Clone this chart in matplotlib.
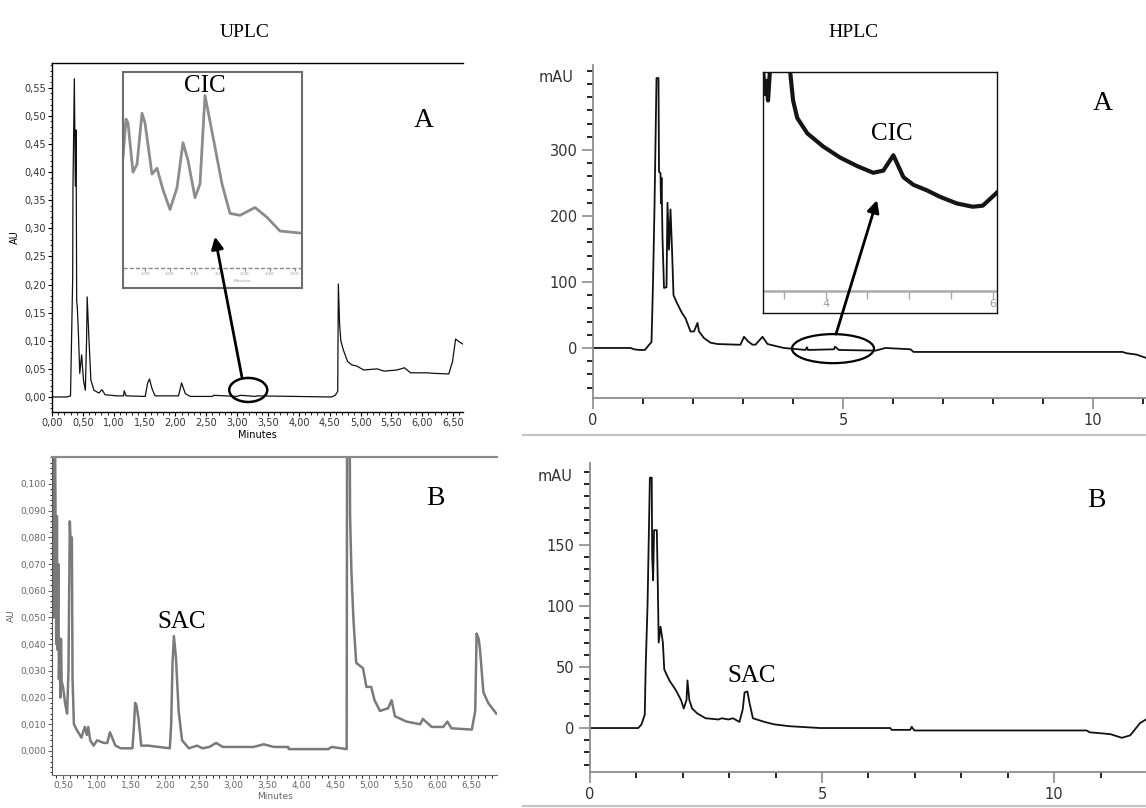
import matplotlib
matplotlib.use('Agg')
import matplotlib.pyplot as plt
from matplotlib.patches import Ellipse, FancyArrowPatch, Rectangle
from matplotlib.lines import Line2D
from matplotlib.ticker import MultipleLocator

# ---------------- data ----------------
# UPLC, sample A (time in min, absorbance in AU)
uplc_a_t = [0.00, 0.24, 0.30, 0.335, 0.34, 0.362, 0.378, 0.39, 0.40, 0.41, 0.43, 0.45, 0.48,
            0.51, 0.54, 0.56, 0.57, 0.60, 0.63, 0.68, 0.76, 0.81, 0.86, 1.05, 1.16, 1.17, 1.20,
            1.51, 1.55, 1.58, 1.62, 1.67, 2.05, 2.10, 2.16, 2.24, 2.60, 2.62, 3.00, 3.05, 3.30,
            3.32, 4.53, 4.59, 4.63, 4.64, 4.66, 4.68, 4.72, 4.79, 4.86, 4.94, 5.05, 5.27, 5.38,
            5.59, 5.71, 5.81, 6.08, 6.19, 6.43, 6.49, 6.54, 6.60, 6.66]
uplc_a_v = [0.000, 0.000, 0.002, 0.210, 0.375, 0.566, 0.375, 0.475, 0.170, 0.160, 0.107, 0.042,
            0.075, 0.030, 0.012, 0.100, 0.178, 0.100, 0.030, 0.012, 0.007, 0.013, 0.004, 0.002,
            0.002, 0.011, 0.002, 0.001, 0.025, 0.032, 0.015, 0.002, 0.002, 0.025, 0.006, 0.001,
            0.001, 0.003, 0.001, 0.003, 0.001, 0.002, 0.000, 0.003, 0.010, 0.201, 0.130, 0.100,
            0.084, 0.063, 0.057, 0.055, 0.048, 0.050, 0.046, 0.048, 0.052, 0.043, 0.043, 0.042,
            0.041, 0.063, 0.103, 0.098, 0.094]
uplc_a_yticks = [0.00, 0.05, 0.10, 0.15, 0.20, 0.25, 0.30, 0.35, 0.40, 0.45, 0.50, 0.55]
uplc_a_ylabels = ['0,00', '0,05', '0,10', '0,15', '0,20', '0,25', '0,30', '0,35', '0,40',
                  '0,45', '0,50', '0,55']
uplc_a_xticks = [0.0, 0.5, 1.0, 1.5, 2.0, 2.5, 3.0, 3.5, 4.0, 4.5, 5.0, 5.5, 6.0, 6.5]
uplc_a_xlabels = ['0,00', '0,50', '1,00', '1,50', '2,00', '2,50', '3,00', '3,50', '4,00',
                  '4,50', '5,00', '5,50', '6,00', '6,50']

# UPLC inset around the CIC peak
cic_uplc_t = [2.812, 2.824, 2.832, 2.852, 2.868, 2.888, 2.90, 2.928, 2.948, 2.972, 3.00, 3.028,
              3.052, 3.072, 3.10, 3.12, 3.14, 3.172, 3.208, 3.24, 3.28, 3.34, 3.388, 3.44, 3.52]
cic_uplc_v = [0.565, 0.76, 0.74, 0.49, 0.53, 0.79, 0.74, 0.48, 0.51, 0.40, 0.30, 0.41, 0.64,
              0.55, 0.36, 0.43, 0.88, 0.67, 0.43, 0.28, 0.27, 0.31, 0.26, 0.19, 0.18]
cic_uplc_ticks = [2.8, 2.9, 3.0, 3.1, 3.2, 3.3, 3.4, 3.5]
cic_uplc_labels = ['2,80', '2,90', '3,00', '3,10', '3,20', '3,30', '3,40', '3,50']

# UPLC, sample B
uplc_b_t = [0.34, 0.355, 0.36, 0.37, 0.375, 0.38, 0.39, 0.40, 0.41, 0.42, 0.43, 0.44, 0.45,
            0.46, 0.47, 0.48, 0.50, 0.53, 0.56, 0.58, 0.60, 0.61, 0.63, 0.64, 0.66, 0.70, 0.77,
            0.82, 0.85, 0.87, 0.90, 0.95, 1.00, 1.10, 1.15, 1.19, 1.27, 1.35, 1.52, 1.54, 1.56,
            1.58, 1.61, 1.65, 1.75, 2.07, 2.09, 2.11, 2.13, 2.16, 2.20, 2.25, 2.35, 2.47, 2.55,
            2.65, 2.75, 2.85, 3.30, 3.45, 3.60, 3.81, 3.82, 4.40, 4.45, 4.67, 4.68, 4.70, 4.72,
            4.74, 4.77, 4.81, 4.91, 4.96, 5.03, 5.08, 5.16, 5.28, 5.33, 5.38, 5.55, 5.75, 5.79,
            5.92, 6.09, 6.15, 6.21, 6.51, 6.56, 6.58, 6.61, 6.63, 6.68, 6.75, 6.87]
uplc_b_v = [0.050, 0.130, 0.050, 0.130, 0.060, 0.130, 0.088, 0.040, 0.088, 0.038, 0.070,
            0.027, 0.042, 0.020, 0.042, 0.026, 0.024, 0.018, 0.014, 0.030, 0.086, 0.079, 0.080,
            0.027, 0.010, 0.008, 0.005, 0.009, 0.006, 0.009, 0.004, 0.002, 0.004, 0.003, 0.003,
            0.007, 0.002, 0.001, 0.001, 0.008, 0.018, 0.017, 0.012, 0.002, 0.002, 0.001, 0.010,
            0.033, 0.043, 0.035, 0.015, 0.004, 0.001, 0.002, 0.001, 0.0015, 0.003, 0.0015, 0.0015,
            0.0025, 0.0015, 0.0015, 0.0007, 0.0007, 0.0015, 0.0007, 0.200, 0.200, 0.088, 0.067,
            0.049, 0.033, 0.031, 0.024, 0.024, 0.019, 0.015, 0.016, 0.019, 0.013, 0.011, 0.010,
            0.012, 0.009, 0.009, 0.011, 0.0085, 0.008, 0.015, 0.044, 0.042, 0.038, 0.022, 0.018,
            0.014]
uplc_b_yticks = [0.00, 0.01, 0.02, 0.03, 0.04, 0.05, 0.06, 0.07, 0.08, 0.09, 0.10]
uplc_b_ylabels = ['0,000', '0,010', '0,020', '0,030', '0,040', '0,050', '0,060', '0,070',
                  '0,080', '0,090', '0,100']
uplc_b_xticks = [0.5, 1.0, 1.5, 2.0, 2.5, 3.0, 3.5, 4.0, 4.5, 5.0, 5.5, 6.0, 6.5]
uplc_b_xlabels = ['0,50', '1,00', '1,50', '2,00', '2,50', '3,00', '3,50', '4,00', '4,50',
                  '5,00', '5,50', '6,00', '6,50']

# HPLC, sample A (time in min, mAU)
hplc_a_t = [0.00, 0.75, 0.82, 0.92, 1.04, 1.09, 1.17, 1.20, 1.23, 1.27, 1.31, 1.32, 1.35, 1.36,
            1.37, 1.39, 1.42, 1.47, 1.49, 1.52, 1.55, 1.58, 1.61, 1.68, 1.78, 1.85, 1.95, 2.02,
            2.09, 2.12, 2.22, 2.35, 2.49, 2.89, 2.95, 3.02, 3.10, 3.19, 3.25, 3.39, 3.49, 3.65,
            3.82, 4.25, 4.28, 4.30, 4.82, 4.84, 4.92, 5.65, 5.85, 6.35, 6.41, 10.59, 10.67, 10.87,
            11.06]
hplc_a_v = [0, 0, -2, -3, -3, 2, 9, 98, 214, 409, 409, 267, 265, 219, 258, 167, 91, 92, 220,
            149, 210, 150, 80, 68, 53, 45, 25, 25, 38, 25, 15, 8, 6, 5, 5, 17, 10, 5, 5, 17, 6,
            3, 0, -3, 1, -3, -2, 2, -3, -4, 0, -2, -6, -6, -8, -10, -15]

# HPLC inset around the CIC peak (arbitrary units)
cic_hplc_t = [3.25, 3.27, 3.29, 3.31, 3.33, 3.35, 3.45, 3.57, 3.61, 3.66, 3.78, 3.97, 4.17,
              4.38, 4.57, 4.69, 4.81, 4.93, 5.05, 5.21, 5.37, 5.57, 5.76, 5.88, 6.05]
cic_hplc_v = [10.2, 9.0, 9.6, 8.7, 9.9, 10.5, 14.0, 10.2, 8.7, 7.9, 7.2, 6.6, 6.1, 5.7, 5.4,
              5.5, 6.2, 5.2, 4.85, 4.6, 4.3, 4.0, 3.85, 3.9, 4.5]
cic_hplc_ticks = [3.5, 4.0, 4.5, 5.0, 5.5, 6.0]
cic_hplc_labels = {4.0: '4', 6.0: '6'}

# HPLC, sample B
hplc_b_t = [0.00, 1.04, 1.11, 1.18, 1.20, 1.24, 1.29, 1.33, 1.34, 1.36, 1.38, 1.44, 1.46, 1.48,
            1.52, 1.57, 1.60, 1.71, 1.85, 1.96, 2.02, 2.08, 2.10, 2.14, 2.20, 2.31, 2.49, 2.77,
            2.84, 2.98, 3.08, 3.22, 3.29, 3.33, 3.39, 3.44, 3.51, 3.76, 3.97, 4.29, 4.96, 6.47,
            6.50, 6.90, 6.93, 6.99, 10.70, 10.77, 11.21, 11.46, 11.64, 11.85, 11.98]
hplc_b_v = [0, 0, 3, 11, 50, 101, 205, 205, 140, 121, 162, 162, 119, 70, 83, 70, 48, 39, 31, 23,
            16, 23, 39, 23, 16, 12, 8, 7, 8, 7, 8, 5, 15, 29, 30, 20, 8, 5, 3, 1.5, 0, 0, -1.5,
            -1.5, 1, -2, -2, -3.5, -5, -8, -6, 4, 7]

hplc_a_yticks = [0, 100, 200, 300]
hplc_b_yticks = [0, 50, 100, 150]
hplc_xticks = [0, 5, 10]

# ---------------- figure ----------------
W, H = 1146, 808
fig = plt.figure(figsize=(W / 100, H / 100), dpi=100)
serif = 'Liberation Serif'


def box(x0, y0, x1, y1):
    return [x0 / W, 1 - y1 / H, (x1 - x0) / W, (y1 - y0) / H]


fig.text(245 / W, 1 - 37 / H, 'UPLC', family=serif, fontsize=14, ha='center', va='baseline')
fig.text(853 / W, 1 - 37 / H, 'HPLC', family=serif, fontsize=14, ha='center', va='baseline')

# ---- UPLC A ----
ax1 = fig.add_axes(box(52, 63, 463, 412))
ax1.plot(uplc_a_t, uplc_a_v, color='#111111', lw=0.9)
ax1.set_xlim(0, 6.66)
ax1.set_ylim(-0.0267, 0.594)
ax1.spines['right'].set_visible(False)
for s in ['left', 'bottom', 'top']:
    ax1.spines[s].set_linewidth(1.0)
ax1.set_yticks(uplc_a_yticks)
ax1.set_yticklabels(uplc_a_ylabels)
ax1.set_xticks(uplc_a_xticks)
ax1.set_xticklabels(uplc_a_xlabels)
ax1.yaxis.set_minor_locator(MultipleLocator(0.01))
ax1.xaxis.set_minor_locator(MultipleLocator(0.1))
ax1.tick_params(labelsize=7, length=3, width=0.8, pad=1.5, labelcolor='#333333')
ax1.tick_params(which='minor', length=1.8, width=0.6)
ax1.set_ylabel('AU', fontsize=7, labelpad=3)
ax1.set_xlabel('Minutes', fontsize=7, labelpad=1)
ax1.text(0.905, 0.817, 'A', transform=ax1.transAxes, family=serif, fontsize=20,
         ha='center', va='baseline')
ax1.add_patch(Ellipse((3.18, 0.0125), 0.616, 0.0427, fill=False, lw=1.8, color='k'))

ins1 = fig.add_axes(box(123, 72, 302, 288))
ins1.plot(cic_uplc_t, cic_uplc_v, color='#8c8c8c', lw=2.0)
ins1.axhline(0, color='#8a8a8a', lw=1.0, ls=(0, (3, 1.5)))
ins1.vlines(cic_uplc_ticks, -0.012, 0.0, color='#8a8a8a', lw=0.8)
ins1.set_xlim(2.812, 3.528)
ins1.set_ylim(-0.1, 1.0)
ins1.set_xticks([])
ins1.set_yticks([])
for s in ins1.spines.values():
    s.set_color('#6e6e6e')
    s.set_linewidth(1.5)
for t, lab in zip(cic_uplc_ticks, cic_uplc_labels):
    ins1.text(t, -0.03, lab, fontsize=3.2, ha='center', va='center', color='#999999',
              clip_on=True)
ins1.text(3.29, -0.065, 'Minutes', fontsize=3.2, ha='center', va='center', color='#999999')
ins1.text(0.458, 0.907, 'CIC', transform=ins1.transAxes, family=serif, fontsize=18,
          ha='center', va='baseline')

fig.add_artist(FancyArrowPatch((3.08, 0.034), (2.64, 0.285), transform=ax1.transData,
                               arrowstyle='-|>', mutation_scale=18, lw=2, color='k',
                               shrinkA=0, shrinkB=0, zorder=5))

# cut-off "Minutes" label of the upper UPLC panel
fig.add_artist(Rectangle((300 / W, 1 - 455 / H), 200 / W, 20 / H, transform=fig.transFigure,
                         facecolor='white', edgecolor='none', zorder=4))

# ---- UPLC B ----
ax2 = fig.add_axes(box(52, 457, 497, 775))
ax2.plot(uplc_b_t, uplc_b_v, color='#7a7a7a', lw=1.8)
ax2.set_xlim(0.338, 6.88)
ax2.set_ylim(-0.009, 0.1101)
ax2.spines['right'].set_visible(False)
ax2.spines['top'].set_color('#8a8a8a')
ax2.spines['top'].set_linewidth(1.6)
ax2.spines['left'].set_color('#555555')
ax2.spines['bottom'].set_color('#6a6a6a')
ax2.set_yticks(uplc_b_yticks)
ax2.set_yticklabels(uplc_b_ylabels)
ax2.set_xticks(uplc_b_xticks)
ax2.set_xticklabels(uplc_b_xlabels)
ax2.yaxis.set_minor_locator(MultipleLocator(0.002))
ax2.xaxis.set_minor_locator(MultipleLocator(0.1))
ax2.tick_params(labelsize=6.5, length=3, width=0.8, pad=1.5, colors='#666666',
                labelcolor='#666666')
ax2.tick_params(which='minor', length=1.8, width=0.6)
ax2.set_ylabel('AU', fontsize=6.5, labelpad=3, color='#666666')
ax2.set_xlabel('Minutes', fontsize=6.5, labelpad=1, color='#666666')
ax2.text(0.292, 0.462, 'SAC', transform=ax2.transAxes, family=serif, fontsize=18,
         ha='center', va='baseline')
ax2.text(0.861, 0.849, 'B', transform=ax2.transAxes, family=serif, fontsize=20,
         ha='center', va='baseline')


def hplc_style(ax, yticks, ymajor_minor):
    for s in ['top', 'right']:
        ax.spines[s].set_visible(False)
    for s in ['left', 'bottom']:
        ax.spines[s].set_color('#8c8c8c')
        ax.spines[s].set_linewidth(1.3)
    ax.set_yticks(yticks)
    ax.set_xticks(hplc_xticks)
    ax.yaxis.set_minor_locator(MultipleLocator(ymajor_minor))
    ax.xaxis.set_minor_locator(MultipleLocator(1))
    ax.tick_params(labelsize=10.5, length=8, width=1.2, pad=3, colors='#8c8c8c',
                   labelcolor='#333333')
    ax.tick_params(axis='y', which='minor', length=4.5, width=1.2)
    ax.tick_params(axis='x', which='minor', length=4, width=1.2)


# ---- HPLC A ----
ax3 = fig.add_axes(box(593, 65, 1146, 398))
ax3.plot(hplc_a_t, hplc_a_v, color='#111111', lw=1.3)
ax3.set_xlim(0, 11.06)
ax3.set_ylim(-75.8, 428.8)
hplc_style(ax3, hplc_a_yticks, 20)
ax3.text(-0.036, 410, 'mAU', transform=ax3.get_yaxis_transform(), fontsize=10.5,
         color='#333333', ha='right', va='center')
ax3.text(0.922, 0.865, 'A', transform=ax3.transAxes, family=serif, fontsize=20,
         ha='center', va='baseline')
ax3.add_patch(Ellipse((4.80, -1), 1.64, 44, fill=False, lw=1.6, color='k'))

ins2 = fig.add_axes(box(763, 72, 997, 313))
ins2.plot(cic_hplc_t, cic_hplc_v, color='#151515', lw=3.0)
ins2.axhline(0, color='#aaaaaa', lw=1.8)
ins2.vlines(cic_hplc_ticks, -0.35, 0.0, color='#aaaaaa', lw=1.0)
ins2.set_xlim(3.25, 6.05)
ins2.set_ylim(-1, 10)
ins2.set_xticks([])
ins2.set_yticks([])
for s in ins2.spines.values():
    s.set_color('#111111')
    s.set_linewidth(1.0)
for t, lab in cic_hplc_labels.items():
    ins2.text(t, -0.6, lab, fontsize=8, ha='center', va='center', color='#999999',
              clip_on=True)
ins2.text(0.551, 0.718, 'CIC', transform=ins2.transAxes, family=serif, fontsize=18,
          ha='center', va='baseline')

fig.add_artist(FancyArrowPatch((4.86, 21), (5.68, 224), transform=ax3.transData,
                               arrowstyle='-|>', mutation_scale=18, lw=2, color='k',
                               shrinkA=0, shrinkB=0, zorder=5))

# ---- HPLC B ----
ax4 = fig.add_axes(box(590, 463, 1146, 772))
ax4.plot(hplc_b_t, hplc_b_v, color='#111111', lw=1.3)
ax4.set_xlim(0, 11.98)
ax4.set_ylim(-36, 217)
hplc_style(ax4, hplc_b_yticks, 10)
ax4.text(-0.031, 206, 'mAU', transform=ax4.get_yaxis_transform(), fontsize=10.5,
         color='#333333', ha='right', va='center')
ax4.text(0.291, 0.291, 'SAC', transform=ax4.transAxes, family=serif, fontsize=18,
         ha='center', va='baseline')
ax4.text(0.91, 0.858, 'B', transform=ax4.transAxes, family=serif, fontsize=20,
         ha='center', va='baseline')

# frame lines of the HPLC screenshots
for yy in [435, 806]:
    fig.add_artist(Line2D([523 / W, 1.0], [1 - yy / H, 1 - yy / H], transform=fig.transFigure,
                          color='#c4c4c4', lw=1.6))

fig.savefig('out.png', dpi=100, facecolor='white')
